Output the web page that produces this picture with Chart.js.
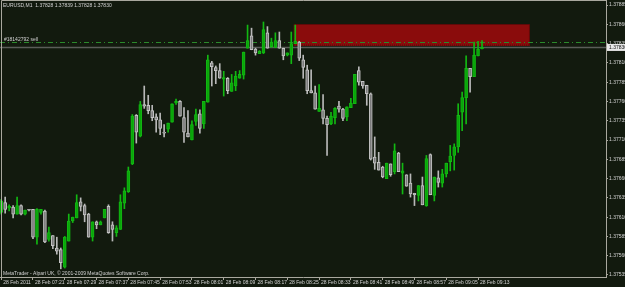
<!DOCTYPE html>
<html><head><meta charset="utf-8">
<script src="https://cdn.jsdelivr.net/npm/chart.js@4.4.1/dist/chart.umd.min.js"></script>
<style>html,body{margin:0;padding:0;background:#121a0e;overflow:hidden}canvas{display:block}</style>
</head><body>
<canvas id="c" width="625" height="287"></canvas>
<script>
const title = 'EURUSD,M1  1.37828 1.37839 1.37828 1.37830';
const footer = 'MetaTrader - Alpari UK, \u00A9 2001-2009 MetaQuotes Software Corp.';
const orderLabel = '#18142792 sell';
const xTickLabels = ['28 Feb 2011','28 Feb 07:21','28 Feb 07:29','28 Feb 07:37','28 Feb 07:45','28 Feb 07:53','28 Feb 08:01','28 Feb 08:09','28 Feb 08:17','28 Feb 08:25','28 Feb 08:33','28 Feb 08:41','28 Feb 08:49','28 Feb 08:57','28 Feb 09:05','28 Feb 09:13'];
const xTickBars = [0,8,16,24,32,40,48,56,64,72,80,88,96,104,112,120];
const yTicks = [1.37535,1.37560,1.37585,1.37610,1.37635,1.37660,1.37685,1.37710,1.37735,1.37760,1.37785,1.37810,1.37835,1.37860,1.37885];

const open = [1.37616,1.37629,1.37622,1.37623,1.37614,1.37625,1.37614,1.37620,1.37620,1.37584,
1.37616,1.37618,1.37581,1.37586,1.37570,1.37568,1.37545,1.37579,1.37605,1.37609,
1.37630,1.37625,1.37614,1.37584,1.37604,1.37600,1.37609,1.37624,1.37600,1.37590,
1.37594,1.37628,1.37643,1.37679,1.37742,1.37715,1.37756,1.37755,1.37748,1.37740,
1.37736,1.37720,1.37724,1.37733,1.37758,1.37760,1.37739,1.37719,1.37710,1.37734,
1.37744,1.37731,1.37759,1.37810,1.37804,1.37800,1.37789,1.37790,1.37773,1.37780,
1.37790,1.37794,1.37829,1.37845,1.37828,1.37822,1.37823,1.37849,1.37831,1.37830,
1.37839,1.37829,1.37820,1.37820,1.37835,1.37837,1.37814,1.37801,1.37774,1.37771,
1.37747,1.37749,1.37738,1.37731,1.37739,1.37754,1.37750,1.37740,1.37752,1.37757,
1.37800,1.37786,1.37781,1.37770,1.37688,1.37681,1.37675,1.37660,1.37679,1.37669,
1.37693,1.37667,1.37665,1.37654,1.37641,1.37638,1.37651,1.37625,1.37691,1.37638,
1.37661,1.37654,1.37666,1.37682,1.37690,1.37701,1.37746,1.37765,1.37803,1.37792,
1.37819,1.37828];
const high = [1.37633,1.37636,1.37626,1.37625,1.37636,1.37626,1.37619,1.37620,1.37620,1.37621,
1.37620,1.37619,1.37597,1.37586,1.37584,1.37570,1.37585,1.37614,1.37610,1.37639,
1.37635,1.37627,1.37615,1.37604,1.37605,1.37605,1.37620,1.37626,1.37604,1.37599,
1.37639,1.37648,1.37675,1.37743,1.37743,1.37760,1.37780,1.37768,1.37755,1.37744,
1.37745,1.37730,1.37732,1.37757,1.37763,1.37761,1.37752,1.37748,1.37735,1.37750,
1.37749,1.37760,1.37820,1.37812,1.37806,1.37809,1.37799,1.37791,1.37795,1.37799,
1.37800,1.37824,1.37859,1.37855,1.37829,1.37826,1.37863,1.37857,1.37842,1.37849,
1.37850,1.37829,1.37823,1.37850,1.37859,1.37838,1.37820,1.37807,1.37801,1.37780,
1.37782,1.37769,1.37741,1.37746,1.37752,1.37760,1.37751,1.37753,1.37764,1.37795,
1.37805,1.37786,1.37781,1.37771,1.37714,1.37694,1.37676,1.37680,1.37679,1.37705,
1.37694,1.37680,1.37665,1.37666,1.37641,1.37651,1.37662,1.37690,1.37692,1.37662,
1.37670,1.37672,1.37680,1.37703,1.37705,1.37757,1.37772,1.37819,1.37803,1.37837,
1.37838,1.37839];
const low = [1.37614,1.37615,1.37618,1.37609,1.37614,1.37613,1.37613,1.37618,1.37582,1.37575,
1.37614,1.37577,1.37579,1.37569,1.37562,1.37543,1.37544,1.37579,1.37603,1.37609,
1.37618,1.37604,1.37584,1.37579,1.37595,1.37600,1.37609,1.37589,1.37579,1.37585,
1.37594,1.37621,1.37642,1.37678,1.37706,1.37714,1.37751,1.37744,1.37735,1.37720,
1.37717,1.37714,1.37720,1.37733,1.37756,1.37741,1.37707,1.37714,1.37710,1.37729,
1.37719,1.37725,1.37759,1.37780,1.37783,1.37790,1.37767,1.37770,1.37773,1.37774,
1.37790,1.37789,1.37829,1.37827,1.37820,1.37822,1.37822,1.37829,1.37830,1.37830,
1.37829,1.37814,1.37819,1.37809,1.37835,1.37813,1.37790,1.37770,1.37771,1.37750,
1.37747,1.37731,1.37690,1.37730,1.37731,1.37746,1.37735,1.37735,1.37752,1.37757,
1.37781,1.37777,1.37755,1.37684,1.37672,1.37671,1.37661,1.37660,1.37663,1.37666,
1.37669,1.37640,1.37650,1.37636,1.37625,1.37631,1.37626,1.37624,1.37639,1.37631,
1.37649,1.37649,1.37662,1.37670,1.37671,1.37694,1.37722,1.37731,1.37772,1.37792,
1.37819,1.37828];
const close = [1.37631,1.37620,1.37624,1.37614,1.37625,1.37614,1.37619,1.37619,1.37584,1.37620,
1.37620,1.37578,1.37590,1.37573,1.37566,1.37551,1.37584,1.37605,1.37610,1.37629,
1.37624,1.37613,1.37584,1.37604,1.37600,1.37604,1.37620,1.37590,1.37594,1.37596,
1.37630,1.37644,1.37670,1.37741,1.37720,1.37756,1.37754,1.37748,1.37739,1.37736,
1.37725,1.37719,1.37732,1.37757,1.37760,1.37741,1.37720,1.37714,1.37730,1.37743,
1.37725,1.37760,1.37814,1.37805,1.37800,1.37790,1.37791,1.37774,1.37784,1.37793,
1.37795,1.37824,1.37839,1.37827,1.37823,1.37825,1.37853,1.37829,1.37837,1.37839,
1.37829,1.37819,1.37823,1.37835,1.37838,1.37816,1.37804,1.37774,1.37771,1.37750,
1.37751,1.37738,1.37730,1.37741,1.37751,1.37750,1.37738,1.37753,1.37758,1.37795,
1.37785,1.37780,1.37770,1.37685,1.37680,1.37671,1.37662,1.37680,1.37665,1.37696,
1.37669,1.37670,1.37650,1.37640,1.37639,1.37651,1.37626,1.37686,1.37639,1.37662,
1.37655,1.37666,1.37680,1.37689,1.37701,1.37742,1.37765,1.37803,1.37792,1.37820,
1.37828,1.37830];

const bidPrice = 1.37830;
const orderPrice = 1.37837;
const zoneTop = 1.37860, zoneBottom = 1.37832, zoneFromBar = 74, zoneToBar = 133;

const BG = '#121a0e', AXIS = '#a9a89e', TXT = '#d2d2d2';
const UP_FILL = '#0aa50a', UP_LINE = '#12b812';
const DN_FILL = '#7c7c7c', DN_LINE = '#c4c4c4';
const FONT = '"Liberation Sans", Arial, sans-serif';

const isUp = close.map((c,i)=>c>=open[i]);
const wickData = high.map((h,i)=>({x:i, y:[low[i],h]}));
const bodyData = open.map((o,i)=>({x:i, y:[o,close[i]]}));

const decor = {
  id:'decor',
  beforeDraw(chart){
    const c = chart.ctx; c.save(); c.fillStyle = BG; c.fillRect(0,0,chart.width,chart.height); c.restore();
  },
  beforeDatasetsDraw(chart){
    const c = chart.ctx, xs = chart.scales.x, ys = chart.scales.y, a = chart.chartArea;
    c.save();
    const x1 = xs.getPixelForValue(zoneFromBar) - 1.5, x2 = xs.getPixelForValue(zoneToBar);
    const y1 = ys.getPixelForValue(zoneTop), y2 = ys.getPixelForValue(zoneBottom);
    c.fillStyle = '#8a0c0c'; c.fillRect(x1,y1,x2-x1,y2-y1);
    c.strokeStyle = '#5a0606'; c.setLineDash([1,1]); c.lineWidth=1;
    c.strokeRect(Math.round(x1)+0.5,Math.round(y1)+0.5,x2-x1-1,y2-y1-1);
    c.setLineDash([]);
    const by = ys.getPixelForValue(bidPrice);
    c.strokeStyle = '#5a5d58'; c.lineWidth = 1.6;
    c.beginPath(); c.moveTo(a.left, by); c.lineTo(a.right, by); c.stroke();
    const oy = Math.round(ys.getPixelForValue(orderPrice))+0.5;
    c.strokeStyle = '#2b8a2b'; c.lineWidth = 1; c.setLineDash([5,3,1,3]);
    c.beginPath(); c.moveTo(a.left, oy); c.lineTo(a.right, oy); c.stroke();
    c.setLineDash([]);
    c.font = '5px ' + FONT; c.fillStyle = TXT; c.textBaseline = 'alphabetic'; c.textAlign='left';
    c.fillText(orderLabel, 4, oy - 2);
    c.restore();
  },
  afterDraw(chart){
    const c = chart.ctx, ys = chart.scales.y, a = chart.chartArea;
    c.save();
    c.strokeStyle = AXIS; c.lineWidth = 1;
    c.beginPath(); c.moveTo(1.5, a.bottom); c.lineTo(1.5, 0.5); c.lineTo(a.right, 0.5); c.stroke();
    c.font = '5px ' + FONT; c.fillStyle = TXT; c.textAlign='left'; c.textBaseline='middle';
    c.fillText(title, 3, 5.5);
    c.fillText(footer, 3, 273.5);
    const by = ys.getPixelForValue(bidPrice);
    c.fillStyle = '#e8e8e8'; c.fillRect(a.right+1, by-3.5, 625-a.right, 7);
    c.fillStyle = '#101010'; c.fillText(bidPrice.toFixed(5), a.right+3, by);
    c.restore();
  }
};

Chart.defaults.font.family = FONT;
Chart.defaults.font.size = 5;
Chart.defaults.color = TXT;

new Chart(document.getElementById('c'), {
  type:'bar',
  data:{ datasets:[
    { label:'wick', data:wickData, grouped:false, order:2, barThickness:1,
      backgroundColor: isUp.map(u=>u?UP_LINE:'#b8b8b8'), borderWidth:0 },
    { label:'body', data:bodyData, grouped:false, order:1, barThickness:3,
      backgroundColor: isUp.map(u=>u?UP_FILL:DN_FILL), borderColor: isUp.map(u=>u?UP_LINE:DN_LINE),
      borderWidth:1, borderSkipped:false }
  ]},
  options:{
    responsive:false, animation:false, maintainAspectRatio:false,
    layout:{padding:0},
    plugins:{legend:{display:false}, tooltip:{enabled:false}},
    scales:{
      x:{ type:'linear', min:-0.3, max:152.2, offset:false,
          grid:{offset:false, drawOnChartArea:false, drawTicks:true, tickLength:3, tickColor:AXIS, color:AXIS},
          border:{color:AXIS, width:1},
          afterBuildTicks:(s)=>{ s.ticks = xTickBars.map(v=>({value:v})); },
          afterFit:(s)=>{ s.height = 10; s.paddingLeft = 0; s.paddingRight = 0; },
          ticks:{ autoSkip:false, maxRotation:0, minRotation:0, align:'start', labelOffset:2, padding:0,
                  font:{size:5}, color:TXT, callback:(v,i)=>xTickLabels[i] } },
      y:{ position:'right', min:1.375324, max:1.378915,
          grid:{drawOnChartArea:false, drawTicks:true, tickLength:2, tickColor:AXIS, color:AXIS},
          border:{color:AXIS, width:1},
          afterBuildTicks:(s)=>{ s.ticks = yTicks.map(v=>({value:v})); },
          afterFit:(s)=>{ s.width = 19; s.paddingTop = 0; s.paddingBottom = 0; },
          ticks:{ padding:1, font:{size:5}, color:TXT, callback:(v)=>Number(v).toFixed(5) } }
    }
  },
  plugins:[decor]
});
</script>
</body></html>
